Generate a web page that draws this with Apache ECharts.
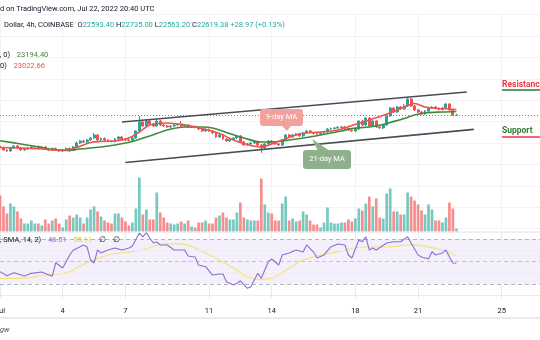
<!DOCTYPE html>
<html><head><meta charset="utf-8">
<script src="https://cdn.jsdelivr.net/npm/echarts@6/dist/echarts.min.js"></script>
<style>html,body{margin:0;padding:0;background:#fff}#c{width:540px;height:340px}</style>
</head><body><div id="c"></div>
<script>
// ---- data (BTC/USD 4h, Coinbase, Jul 1 – Jul 22 2022) ----
const opens = [19723,19536,19349,19256,19536,19723,19536,19349,19442,19536,19629,19676,19536,19629,19442,19349,19489,19349,19256,19349,19489,19302,19629,20003,20190,20097,20284,20471,20751,20284,20424,20284,20190,20144,20377,20564,20377,20284,20237,20471,21125,21966,21592,22059,21779,21592,22059,21685,21592,21499,21592,21685,21779,21592,21685,21499,21545,21452,21312,21125,21265,21125,20938,20564,20751,20377,20190,20331,20471,20657,20097,19816,19910,20003,20097,19816,19536,19910,20190,20003,19910,19816,20284,20751,20564,20751,20844,20657,20938,21125,20985,20891,20844,20938,21031,21312,21358,21405,21452,21499,21358,21218,21125,21312,22059,21685,22340,21592,22059,21499,21405,21685,22527,23274,22900,23368,23181,23461,24115,23461,23087,22900,22714,22994,23274,23368,23228,23134,23274,23648,23087,22593.40];
const closes = [19536,19349,19256,19536,19723,19536,19349,19442,19536,19629,19676,19536,19629,19442,19349,19489,19349,19256,19349,19489,19302,19629,20003,20190,20097,20284,20471,20751,20284,20424,20284,20190,20144,20377,20564,20377,20284,20237,20471,21125,21966,21592,22059,21779,21592,22059,21685,21592,21499,21592,21685,21779,21592,21685,21499,21545,21452,21312,21125,21265,21125,20938,20564,20751,20377,20190,20331,20471,20657,20097,19816,19910,20003,20097,19816,19536,19910,20190,20003,19910,19816,20284,20751,20564,20751,20844,20657,20938,21125,20985,20891,20844,20938,21031,21312,21358,21405,21452,21499,21358,21218,21125,21312,22059,21685,22340,21592,22059,21499,21405,21685,22527,23274,22900,23368,23181,23461,24115,23461,23087,22900,22714,22994,23274,23368,23228,23134,23274,23648,23087,22593,22619.38];
const highs = [19816,19629,19442,19629,19816,19816,19629,19536,19629,19723,19770,19770,19723,19723,19536,19583,19583,19442,19442,19583,19583,19723,20144,20284,20284,20377,20564,20938,20844,20517,20517,20377,20284,20471,20657,20657,20471,20377,20564,21218,22527,22153,22153,22153,21872,22246,22153,21779,21685,21685,21779,21872,22059,21779,21779,21639,21639,21499,21405,21358,21358,21218,21031,20844,20844,20471,20424,20564,20751,20751,20190,20003,20097,20190,20190,19910,20003,20284,20284,20097,20003,20377,20844,20844,20844,20938,20938,21031,21218,21218,21031,20938,21031,21125,21405,21452,21499,21592,21592,21592,21405,21265,21405,22153,22153,22433,22433,22153,22153,21592,21779,22620,23368,23368,23461,23461,23648,24256,24209,23555,23181,22994,23087,23368,23461,23461,23321,23368,23742,23742,23134,22735.00];
const lows = [19442,19256,19162,19162,19442,19442,19256,19256,19349,19442,19536,19442,19442,19349,19256,19256,19256,19162,19162,19256,19162,19256,19536,19910,20003,20003,20190,20377,20190,20190,20190,20097,20050,20050,20284,20284,20190,20144,20144,20377,21078,21499,21499,21685,21499,21499,21592,21499,21405,21405,21499,21592,21499,21499,21405,21405,21358,21218,21031,21031,21031,20844,20471,20471,20284,20097,20097,20237,20377,20003,19723,19723,19816,19910,19723,19069,19442,19816,19910,19816,19723,19723,20190,20471,20471,20657,20564,20564,20844,20891,20797,20751,20751,20844,20938,21218,21265,21312,21358,21265,21125,21031,21031,21218,21592,21592,21499,21499,21405,21312,21312,21592,22433,22807,22807,23087,23087,23368,23368,22994,22807,22620,22620,22900,23181,23134,23041,23041,23181,22994,22527,22563.20];
const volumes = [3600,2500,1800,2800,2500,2000,1300,800,800,1100,800,800,600,1200,800,1100,1300,800,400,1200,1600,1400,1700,1400,800,1400,2200,2500,2000,1500,1100,900,800,1800,1800,1400,1000,600,900,2300,5400,1700,2200,1200,1200,3900,1900,1400,900,800,700,800,1000,800,1100,500,400,900,900,1100,800,800,1400,1600,1900,1400,1200,1200,1900,2900,1400,1200,1100,1100,1100,5300,2700,1900,1800,1100,1100,2800,3500,1100,1300,1000,1100,2000,1700,1100,700,700,400,900,2400,900,800,800,900,900,1200,1000,1300,2300,2100,2800,3500,2500,3300,1400,1300,3800,4300,2000,2000,1700,1700,3900,3500,3100,2700,2100,1700,2700,2200,1100,1100,900,1400,2900,2300,300];
// moving averages: [candle index, value]
const ma9 = [[0,19583],[6,19536],[12,19442],[16,19349],[19,19349],[22,19583],[26,20050],[29,20144],[33,20190],[37,20471],[40,21031],[43,21685],[48,21872],[53,21685],[58,21358],[63,20891],[67,20284],[71,19863],[75,19629],[78,19910],[81,20284],[86,20844],[92,21031],[97,21218],[101,21639],[106,22153],[112,22807],[116,23368],[119,23695],[122,23368],[126,23228],[129,23181],[131,23134]];
const ma21 = [[0,20218],[6,19910],[12,19583],[15,19396],[19,19302],[23,19442],[29,19629],[33,19816],[38,20144],[43,20657],[48,21218],[53,21499],[58,21499],[61,21405],[65,20985],[70,20471],[75,20097],[80,20144],[87,20471],[92,20751],[98,21125],[101,21358],[106,21499],[110,21732],[112,21919],[116,22293],[119,22620],[122,22807],[127,22900],[131,22948]];
const rsi = [[0,41],[2,37.4],[4,40],[7,37.1],[9,39.5],[12,40.7],[14,38],[15,37.1],[16,48.9],[18,44.2],[20,55.8],[21,60],[24,64.7],[25,62.9],[26,51.3],[27,48.7],[28,60.2],[29,57.6],[31,60.2],[33,62],[35,60.2],[37,62],[38,63.8],[40,75.3],[41,71.8],[42,75.6],[43,70.9],[44,66.4],[45,67.3],[46,64.7],[48,64.7],[50,60.2],[53,60.2],[54,54.9],[56,54],[57,46.9],[59,45.4],[61,38],[63,38.9],[64,38.9],[65,32],[67,29.1],[68,30.6],[69,32.9],[71,26.2],[72,27.6],[74,39.5],[75,35.1],[77,49.8],[78,52.2],[80,46.9],[81,55.8],[83,57.6],[85,60.2],[87,58.4],[88,64.7],[90,58.4],[91,53.1],[93,55.8],[95,63.2],[97,65.6],[99,64.7],[100,55.8],[101,53.1],[103,69.1],[104,67.6],[105,72],[106,60.2],[107,62],[108,60.2],[111,66.4],[113,67.6],[115,67.6],[117,72],[118,66.4],[120,55.8],[121,54],[123,52.2],[124,58.7],[125,55.8],[127,57.6],[128,60.2],[129,54],[130,48.7],[131,48.51]];
const rsiMa = [[0,35.1],[6,35.1],[13,38],[18,39.5],[20,40.9],[23,46],[27,51.3],[31,55.8],[35,57.8],[41,60.2],[44,63.8],[48,65.6],[52,65.6],[56,62],[60,55.8],[63,51.3],[67,44.2],[71,36.5],[74,34.2],[78,35.3],[83,44.2],[87,51.3],[92,55.8],[97,58.7],[104,62.9],[111,62.9],[118,64.7],[123,62.9],[127,60.2],[131,55.11]];
const channelUpper = [[35,21957],[134,24770]];
const channelLower = [[36,18172],[136,21274]];
const tickDays = [1,4,7,11,14,18,21,25];
const tickLabels = ['Jul','4','7','11','14','18','21','25'];
const lastPrice = 22619.38;
const rsiLevels = {upper:70, middle:50, lower:30, grid:[20,40,60]};

// ---- categories: 4h bars from Jul 1 2022 00:00 UTC ----
const NCAT = 156;
const categories = [];
const tickMap = {};
const tickByName = {};
for (let k = 0; k < NCAT; k++) {
  const d = new Date(Date.UTC(2022, 6, 1) + k * 4 * 3600e3);
  const name = 'Jul ' + d.getUTCDate() + ' ' + String(d.getUTCHours()).padStart(2,'0') + ':00';
  categories.push(name);
  if (d.getUTCHours() === 0) {
    const t = tickDays.indexOf(d.getUTCDate());
    if (t >= 0) { tickMap[k] = tickLabels[t]; tickByName[name] = tickLabels[t]; }
  }
}
const isTick = (i) => tickMap[i] !== undefined;

const UP = '#26a69a', DOWN = '#ef5350';
const candleData = opens.map((o, i) => [o, closes[i], lows[i], highs[i]]);
const volData = volumes.map((v, i) => ({
  value: v,
  itemStyle: {color: closes[i] >= opens[i] ? 'rgba(38,166,154,0.62)' : 'rgba(239,83,80,0.65)'}
}));

const FONT = 'Roboto, "Liberation Sans", sans-serif';
const GRIDC = '#f0f3fa';
const chart = echarts.init(document.getElementById('c'), null, {renderer: 'canvas'});

const baseX = {
  type: 'category', data: categories, boundaryGap: false,
  axisLine: {show: false}, axisTick: {show: false}, axisLabel: {show: false},
  splitLine: {show: false}
};

chart.setOption({
  animation: false,
  backgroundColor: '#ffffff',
  grid: [
    {left: -2, right: 0, top: 14.6, height: 214},
    {left: -2, right: 0, top: 160, height: 71.5},
    {left: -2, right: 0, top: 232, height: 66}
  ],
  xAxis: [
    Object.assign({}, baseX, {gridIndex: 0, splitLine: {show: true, interval: (i) => isTick(i), lineStyle: {color: GRIDC, width: 1}}}),
    Object.assign({}, baseX, {gridIndex: 1}),
    Object.assign({}, baseX, {gridIndex: 2,
      splitLine: {show: true, interval: (i) => isTick(i), lineStyle: {color: '#e9e6f3', width: 1}},
      // first label (month name) is drawn separately, centred on its tick so it is clipped like the original
      axisLabel: {show: true, interval: (i) => isTick(i) && i > 0, formatter: (v) => tickByName[v] || '',
        color: '#131722', fontSize: 7.5, fontFamily: FONT, margin: 9}})
  ],
  yAxis: [
    {gridIndex: 0, min: 12000, max: 32000, interval: 2000, axisLabel: {show: false}, axisLine: {show: false}, axisTick: {show: false},
      splitLine: {show: true, lineStyle: {color: GRIDC, width: 1}}},
    {gridIndex: 1, min: 0, max: 7150, show: false, splitLine: {show: false}},
    {gridIndex: 2, min: 17.6, max: 76.2, show: false, splitLine: {show: false}}
  ],
  series: [
    {type: 'bar', xAxisIndex: 1, yAxisIndex: 1, data: volData, barWidth: 2.7, z: 1, silent: true},
    {type: 'candlestick', xAxisIndex: 0, yAxisIndex: 0, data: candleData, barWidth: 2.4, z: 3,
      itemStyle: {color: UP, color0: DOWN, borderColor: UP, borderColor0: DOWN, borderWidth: 1},
      markLine: {silent: true, symbol: 'none', label: {show: false},
        lineStyle: {color: UP, type: [1, 2], width: 1}, data: [{yAxis: lastPrice}]}},
    {type: 'line', xAxisIndex: 0, yAxisIndex: 0, data: ma21, smooth: 0.35, symbol: 'none', z: 4,
      lineStyle: {color: '#3f8a3c', width: 1.6}},
    {type: 'line', xAxisIndex: 0, yAxisIndex: 0, data: ma9, smooth: 0.35, symbol: 'none', z: 4,
      lineStyle: {color: '#ef5350', width: 1.6}},
    {type: 'line', xAxisIndex: 0, yAxisIndex: 0, data: channelUpper, symbol: 'none', z: 5,
      lineStyle: {color: '#4a4d57', width: 1.6}},
    {type: 'line', xAxisIndex: 0, yAxisIndex: 0, data: channelLower, symbol: 'none', z: 5,
      lineStyle: {color: '#4a4d57', width: 1.6}},
    {type: 'line', xAxisIndex: 2, yAxisIndex: 2, data: rsiMa, smooth: 0.4, symbol: 'none', z: 4,
      lineStyle: {color: '#f5e37a', width: 1.2},
      markArea: {silent: true, itemStyle: {color: '#f3effb'}, data: [[{yAxis: rsiLevels.lower}, {yAxis: rsiLevels.upper}]]},
      markLine: {silent: true, symbol: 'none', label: {show: false},
        data: [
          {yAxis: rsiLevels.upper, lineStyle: {color: '#b2b5be', type: [4, 3], width: 1}},
          {yAxis: rsiLevels.middle, lineStyle: {color: '#c3c4cc', type: [4, 3], width: 1}},
          {yAxis: rsiLevels.lower, lineStyle: {color: '#b2b5be', type: [4, 3], width: 1}},
          ...rsiLevels.grid.map(g => ({yAxis: g, lineStyle: {color: '#ecebf3', type: 'solid', width: 1}}))
        ]}},
    {type: 'line', xAxisIndex: 2, yAxisIndex: 2, data: rsi, symbol: 'none', z: 5,
      lineStyle: {color: '#8c6fd3', width: 1.1}}
  ],
  graphic: [
    {type: 'line', shape: {x1: 0, y1: 232, x2: 540, y2: 232}, style: {stroke: '#e0e3eb', lineWidth: 1}, z: 10},
    {type: 'line', shape: {x1: 0, y1: 318, x2: 540, y2: 318}, style: {stroke: '#e0e3eb', lineWidth: 1.5}, z: 10},
    {type: 'text', x: 0, y: 9, z: 20, style: {text: 'd on TradingView.com, Jul 22, 2022 20:40 UTC', font: '7.5px ' + FONT, fill: '#131722', verticalAlign: 'middle'}},
    {type: 'text', x: 4, y: 25, z: 20, style: {
      text: '{n|Dollar, 4h, COINBASE}  {n|O}{v|22593.40} {n|H}{v|22735.00} {n|L}{v|22563.20} {n|C}{v|22619.38} {v|+28.97 (+0.13%)}',
      font: '7.5px ' + FONT, verticalAlign: 'middle',
      rich: {n: {fill: '#131722', font: '7.5px ' + FONT}, v: {fill: '#26a69a', font: '7.5px ' + FONT}}}},
    {type: 'text', x: 0, y: 55, z: 20, style: {text: '{n|, 0)}  {g|23194.40}', verticalAlign: 'middle',
      rich: {n: {fill: '#131722', font: '7.5px ' + FONT}, g: {fill: '#43873e', font: '7.5px ' + FONT}}}},
    {type: 'text', x: 0, y: 66, z: 20, style: {text: '{n|0)}  {r|23022.66}', verticalAlign: 'middle',
      rich: {n: {fill: '#131722', font: '7.5px ' + FONT}, r: {fill: '#ef5350', font: '7.5px ' + FONT}}}},
    {type: 'text', x: 0, y: 240, z: 20, style: {text: '{n|, SMA, 14, 2)}  {p|48.51}  {y|55.11}  {n|∅}  {n|∅}', verticalAlign: 'middle',
      rich: {n: {fill: '#131722', font: '7.5px ' + FONT}, p: {fill: '#8c6fd3', font: '7.5px ' + FONT}, y: {fill: '#e5c93a', font: '7.5px ' + FONT}}}},
    {type: 'text', x: 0, y: 330, z: 20, style: {text: 'gw', font: 'italic 7.5px ' + FONT, fill: '#555', verticalAlign: 'middle'}},
    // 9-day MA callout
    {type: 'polygon', shape: {points: [[281, 125], [292, 125], [287, 131]]}, style: {fill: '#f4a19d'}, z: 21},
    {type: 'rect', shape: {x: 260, y: 109, width: 43, height: 17, r: 3}, style: {fill: '#f4a19d'}, z: 21},
    {type: 'text', x: 281.5, y: 117.5, z: 22, style: {text: '9-day MA', font: '7.5px ' + FONT, fill: '#ffffff', align: 'center', verticalAlign: 'middle'}},
    // 21-day MA callout
    {type: 'polygon', shape: {points: [[318, 151], [330, 151], [312, 139]]}, style: {fill: '#8fb08c'}, z: 21},
    {type: 'rect', shape: {x: 303, y: 150, width: 48, height: 19, r: 3}, style: {fill: '#8fb08c'}, z: 21},
    {type: 'text', x: 327, y: 159.5, z: 22, style: {text: '21-day MA', font: '7.5px ' + FONT, fill: '#ffffff', align: 'center', verticalAlign: 'middle'}},
    // Resistance / Support labels
    {type: 'text', x: 502, y: 85, z: 22, style: {text: 'Resistance', font: 'bold 8.5px ' + FONT, fill: '#f23645', verticalAlign: 'middle'}},
    {type: 'line', shape: {x1: 502, y1: 90, x2: 540, y2: 90}, style: {stroke: '#2e7d32', lineWidth: 1.5}, z: 22},
    {type: 'text', x: 502, y: 131, z: 22, style: {text: 'Support', font: 'bold 8.5px ' + FONT, fill: '#2e7d32', verticalAlign: 'middle'}},
    {type: 'line', shape: {x1: 502, y1: 137, x2: 540, y2: 137}, style: {stroke: '#f23645', lineWidth: 1.5}, z: 22}
  ]
});

// month label at the first tick, placed through the axis scale
const firstTickX = chart.convertToPixel({xAxisIndex: 2}, categories[0]);
const axisY = chart.convertToPixel({yAxisIndex: 2}, 17.6);
chart.setOption({graphic: [{id: 'monthLabel', type: 'text', x: firstTickX, y: axisY + 9 + 4, z: 20,
  style: {text: tickLabels[0], font: '7.5px ' + FONT, fill: '#131722', align: 'center', verticalAlign: 'middle'}}]});
</script></body></html>
